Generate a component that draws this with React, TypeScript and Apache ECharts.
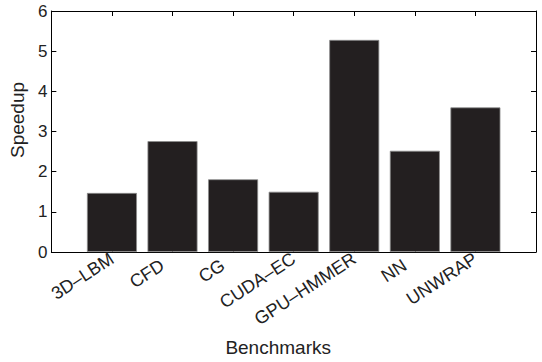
import React, { useEffect, useRef } from "react";
import * as echarts from "echarts";

const categories = ["3D–LBM", "CFD", "CG", "CUDA–EC", "GPU–HMMER", "NN", "UNWRAP"];
const speedups = [1.47, 2.76, 1.81, 1.5, 5.28, 2.52, 3.6];
const yTicks = [0, 1, 2, 3, 4, 5, 6];

export default function App() {
  const ref = useRef<HTMLDivElement>(null);
  useEffect(() => {
    if (!ref.current) return;
    const chart = echarts.init(ref.current, undefined, { renderer: "svg" });
    const font = "'Liberation Sans', Arial, Helvetica, sans-serif";
    const lineStyle = { color: "#000", width: 1 };
    const labelFont = { fontFamily: font, fontSize: 18, color: "#222" };
    const xBase = {
      type: "value" as const,
      min: 0,
      max: categories.length + 1,
      interval: 1,
      splitLine: { show: false },
      axisLine: { show: true, onZero: false, lineStyle },
      axisTick: { show: true, inside: true, length: 5, lineStyle },
    };
    const yBase = {
      type: "value" as const,
      min: yTicks[0],
      max: yTicks[yTicks.length - 1],
      interval: 1,
      splitLine: { show: false },
      axisLine: { show: true, onZero: false, lineStyle },
      axisTick: { show: true, inside: true, length: 5, lineStyle },
    };
    chart.setOption({
      animation: false,
      backgroundColor: "#fff",
      grid: { left: 49, right: 6, top: 11, bottom: 108 },
      xAxis: [
        {
          ...xBase,
          position: "bottom",
          name: "Benchmarks",
          nameLocation: "middle",
          nameGap: 86,
          nameTextStyle: { fontFamily: font, fontSize: 19, color: "#222", padding: [0, 31, 0, 0] },
          axisLabel: {
            show: true,
            rotate: 33,
            margin: 5,
            ...labelFont,
            showMinLabel: false,
            showMaxLabel: false,
            rich: {
              s: { ...labelFont, padding: [0, 12, 0, 0] },
              l: { ...labelFont },
            },
            formatter: (v: number) => {
              const c = categories[v - 1];
              if (!c) return "";
              return c.length <= 3 ? `{s|${c}}` : `{l|${c}}`;
            },
          },
        },
        { ...xBase, position: "top", axisLabel: { show: false } },
      ],
      yAxis: [
        {
          ...yBase,
          position: "left",
          name: "Speedup",
          nameLocation: "middle",
          nameGap: 22,
          nameTextStyle: { fontFamily: font, fontSize: 19, color: "#222", padding: [0, 0, 0, 23] },
          axisLabel: { show: true, margin: 4, fontFamily: font, fontSize: 17, color: "#222" },
        },
        { ...yBase, position: "right", axisLabel: { show: false } },
      ],
      series: [
        {
          type: "bar",
          data: speedups.map((v, i) => [i + 1, v]),
          barWidth: 50,
          itemStyle: { color: "#231f20", borderColor: "#8c8c8c", borderWidth: 0.8 },
        },
      ],
    });
    return () => chart.dispose();
  }, []);
  return (
    <div
      ref={ref}
      style={{ position: "absolute", left: 0, top: 0, width: 542, height: 362 }}
    />
  );
}
